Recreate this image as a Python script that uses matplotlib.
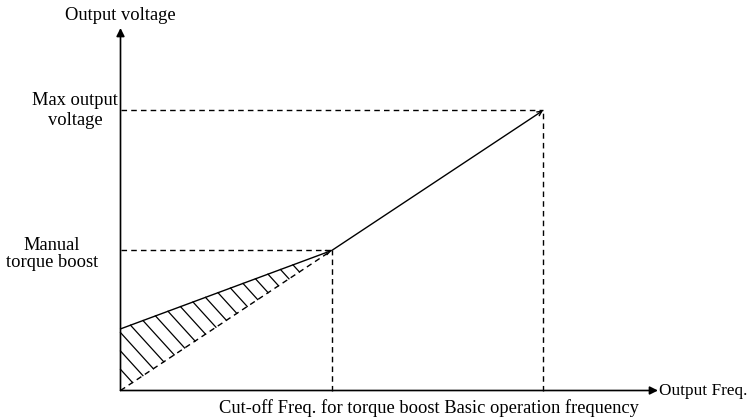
import numpy as np
import matplotlib.pyplot as plt

plt.rcParams['font.family'] = ['Liberation Serif', 'DejaVu Serif']

# V/f curve with manual torque boost (normalised units)
f_points = [0.0, 0.5, 1.0]          # 0, cut-off freq, basic operation freq
v_points = [0.22, 0.5, 1.0]         # boost at 0 Hz, manual torque boost, max output voltage
f_cut, f_base = f_points[1], f_points[2]
v_boost0, v_manual, v_max = v_points

# pixel scale of one unit on each axis
sx, sy = 422.5, 280.0
W, H = 752, 419
ox, oy = 120.5, 390.5   # origin in pixels from top-left

fig = plt.figure(figsize=(W / 100, H / 100), dpi=100)
ax = fig.add_axes([0, 0, 1, 1])
ax.set_xlim(-ox / sx, (W - ox) / sx)
ax.set_ylim(-(H - oy) / sy, oy / sy)
ax.axis('off')

def px_x(p):
    return (p - ox) / sx

def px_y(p):
    return (oy - p) / sy

dash = (0, (4, 3))
kw = dict(color='black', lw=1)

# axes with arrows
ax.annotate('', xy=(0, px_y(28)), xytext=(0, 0),
            arrowprops=dict(arrowstyle='-|>', color='black', lw=1.2,
                            mutation_scale=12, shrinkA=0, shrinkB=0))
ax.annotate('', xy=(px_x(658), 0), xytext=(0, 0),
            arrowprops=dict(arrowstyle='-|>', color='black', lw=1.2,
                            mutation_scale=12, shrinkA=0, shrinkB=0))

# guide lines
ax.plot([0, f_cut], [v_manual, v_manual], ls=dash, **kw)
ax.plot([f_cut, f_cut], [0, v_manual], ls=dash, **kw)
ax.plot([0, f_base], [v_max, v_max], ls=dash, **kw)
ax.plot([f_base, f_base], [0, v_max], ls=dash, **kw)

# linear V/f line without boost
ax.plot([0, f_cut], [0, v_manual], ls=dash, **kw)

# boosted V/f curve
for i in range(len(f_points) - 1):
    ax.annotate('', xy=(f_points[i + 1], v_points[i + 1]),
                xytext=(f_points[i], v_points[i]),
                arrowprops=dict(arrowstyle='->', color='black', lw=1,
                                mutation_scale=8, shrinkA=0, shrinkB=0))

# hatching between boosted curve and linear line
m_up = (v_manual - v_boost0) / f_cut
m_lo = v_manual / f_cut
m_h = -1.1 * sx / sy
step = 12.5 / sx
for k in range(-6, 14):
    fs = 10 / sx + k * step
    vs = v_boost0 + m_up * fs
    fe = (vs - m_h * fs) / (m_lo - m_h)
    if fs < 0:
        vs = vs - m_h * fs
        fs = 0.0
    if vs <= 0.03 or fe <= fs:
        continue
    ax.plot([fs, fe], [vs, m_lo * fe], color='black', lw=0.9)

# labels
fs_txt = 13.3
ax.text(0, px_y(15), 'Output voltage', ha='center', va='center', fontsize=fs_txt)
ax.text(px_x(75), v_max, 'Max output\nvoltage', ha='center', va='center',
        fontsize=fs_txt, linespacing=1.2)
ax.text(px_x(52), px_y(254), 'Manual\ntorque boost', ha='center', va='center',
        fontsize=fs_txt, linespacing=1.05)
ax.text(px_x(659), px_y(391), 'Output Freq.', ha='left', va='center', fontsize=12.4)
ax.text(px_x(429), px_y(408),
        'Cut-off Freq. for torque boost Basic operation frequency',
        ha='center', va='center', fontsize=fs_txt)

fig.savefig('out.png', dpi=100)
